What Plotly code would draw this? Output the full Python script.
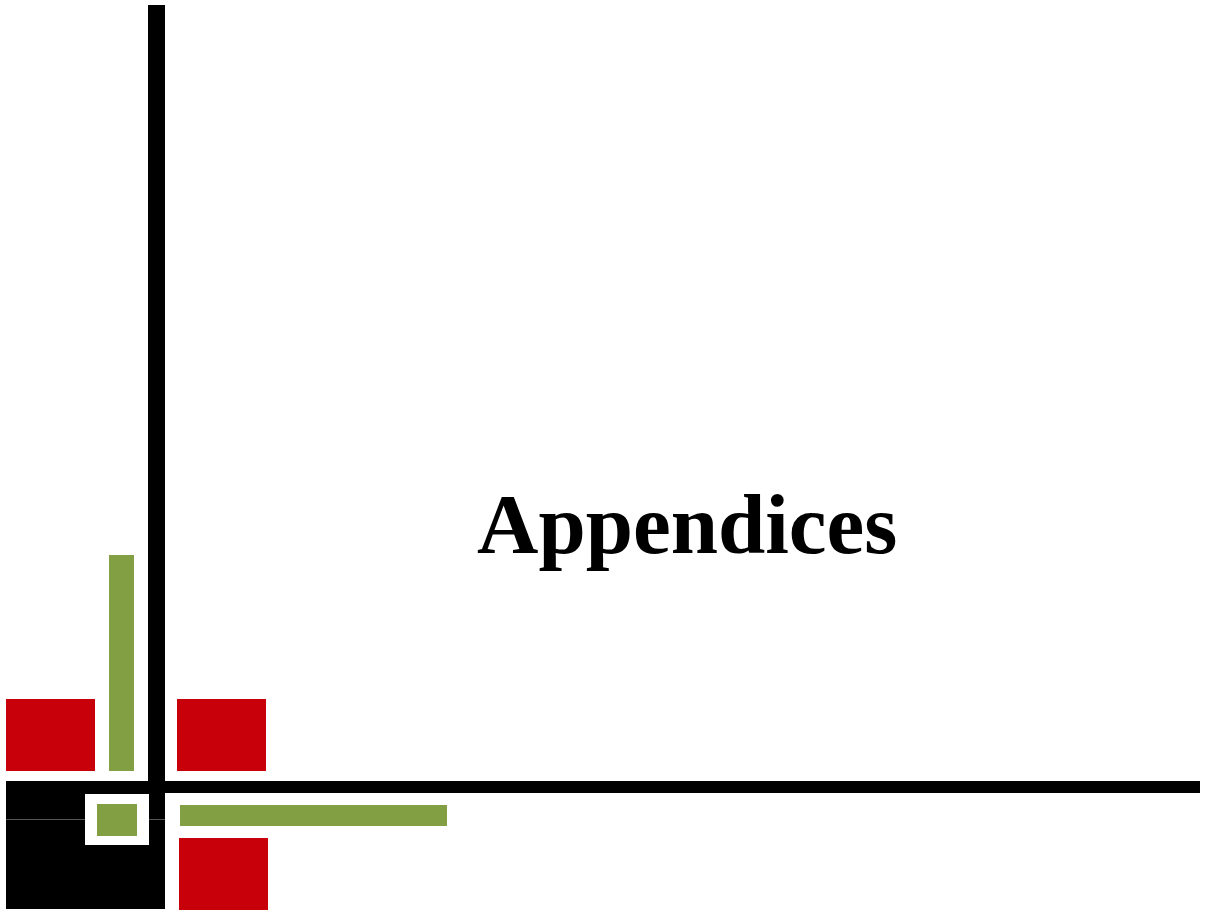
import plotly.graph_objects as go

# Slide title
title_text = "Appendices"

# Decorative blocks: (x0, y0, x1, y1, colour) in pixel coordinates of the slide
RED = "#C8000A"
GREEN = "#82A043"
BLACK = "#000000"
WHITE = "#FFFFFF"

block_x0 = [6, 177, 179, 109, 180, 148, 6, 6, 85, 97]
block_y0 = [699, 699, 838, 555, 805, 5, 781, 781, 794, 804]
block_x1 = [95, 266, 268, 134, 447, 165, 1200, 165, 149, 137]
block_y1 = [771, 771, 910, 771, 826, 909, 793, 909, 845, 836]
block_col = [RED, RED, RED, GREEN, GREEN, BLACK, BLACK, BLACK, WHITE, GREEN]

fig = go.Figure()
shapes = []
for x0, y0, x1, y1, c in zip(block_x0, block_y0, block_x1, block_y1, block_col):
    shapes.append(dict(type="rect", xref="x", yref="y", x0=x0, y0=y0, x1=x1, y1=y1,
                       fillcolor=c, line=dict(width=0), layer="above"))
# thin grey seam across the black block
shapes.append(dict(type="line", xref="x", yref="y", x0=6, x1=85, y0=819.5, y1=819.5,
                   line=dict(color="#555555", width=1)))
shapes.append(dict(type="line", xref="x", yref="y", x0=149, x1=165, y0=819.5, y1=819.5,
                   line=dict(color="#555555", width=1)))

fig.add_annotation(x=687, y=524, xref="x", yref="y", text="<b>" + title_text + "</b>",
                   showarrow=False, font=dict(family="Liberation Serif, Times New Roman, serif",
                                              size=85, color="black"),
                   xanchor="center", yanchor="middle")

fig.update_layout(
    width=1210, height=911,
    margin=dict(l=0, r=0, t=0, b=0),
    paper_bgcolor="white", plot_bgcolor="white",
    shapes=shapes,
    showlegend=False,
    xaxis=dict(range=[0, 1210], visible=False, fixedrange=True),
    yaxis=dict(range=[911, 0], visible=False, fixedrange=True),
)
fig.write_html("out.html",
               config={"displayModeBar": False, "staticPlot": True},
               post_script="document.body.style.margin='0px';document.body.style.overflow='hidden';")
